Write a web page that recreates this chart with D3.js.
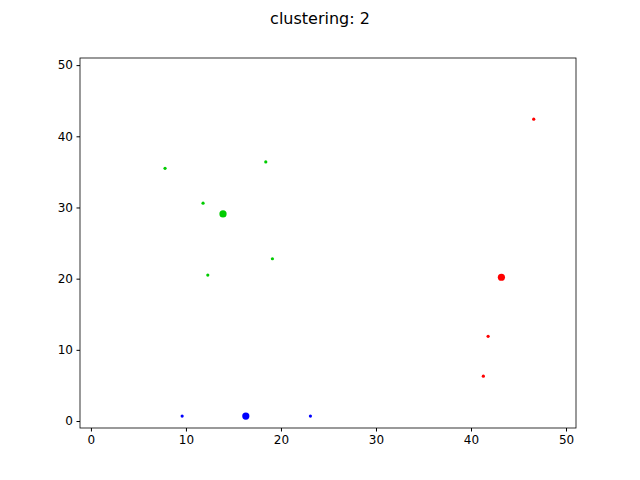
<!DOCTYPE html>
<html>
<head>
<meta charset="utf-8">
<script src="https://cdn.jsdelivr.net/npm/d3@7"></script>
<style>
  body { margin: 0; background: #fff; }
  text { font-family: "DejaVu Sans", sans-serif; }
</style>
</head>
<body>
<div id="chart"></div>
<script>
// points
const xs = [46.6, 43.2, 41.8, 41.3, 7.8, 18.4, 11.8, 13.9, 19.1, 12.3, 9.6, 16.3, 23.1]
const ys = [42.4, 20.2, 11.9, 6.3, 35.5, 36.4, 30.6, 29.1, 22.8, 20.5, 0.7, 0.7, 0.7]
const cluster = [0, 0, 0, 0, 1, 1, 1, 1, 1, 1, 2, 2, 2]
const isCenter = [false, true, false, false, false, false, false, true, false, false, false, true, false]
const ticks = [0, 10, 20, 30, 40, 50]
const colors = ["#ff0000", "#00cc00", "#0000ff"]

const width = 640, height = 480
const margin = {left: 80, right: 64, top: 58, bottom: 52}

const svg = d3.select("#chart").append("svg")
    .attr("width", width)
    .attr("height", height)

const x = d3.scaleLinear().domain([-1.15, 51.05]).range([margin.left, width - margin.right])
const y = d3.scaleLinear().domain([-0.98, 51]).range([height - margin.bottom, margin.top])

// title
svg.append("text")
    .attr("x", width / 2)
    .attr("y", 24)
    .attr("text-anchor", "middle")
    .attr("font-size", 16)
    .text("clustering: 2")

// axes
const xAxis = svg.append("g")
    .attr("transform", `translate(0,${height - margin.bottom})`)
    .call(d3.axisBottom(x).tickValues(ticks).tickSize(3.5).tickPadding(3.5))
const yAxis = svg.append("g")
    .attr("transform", `translate(${margin.left},0)`)
    .call(d3.axisLeft(y).tickValues(ticks).tickSize(3.5).tickPadding(3.5))
;[xAxis, yAxis].forEach(a => {
    a.selectAll("text").attr("font-size", 12).attr("fill", "#000")
    a.select(".domain").remove()
})

// frame
svg.append("rect")
    .attr("x", margin.left)
    .attr("y", margin.top)
    .attr("width", width - margin.left - margin.right)
    .attr("height", height - margin.top - margin.bottom)
    .attr("fill", "none")
    .attr("stroke", "#000")
    .attr("stroke-width", 0.8)

// points
svg.append("g").selectAll("circle")
    .data(xs.map((d, i) => i))
    .join("circle")
    .attr("cx", i => x(xs[i]))
    .attr("cy", i => y(ys[i]))
    .attr("r", i => isCenter[i] ? 3.6 : 1.6)
    .attr("fill", i => colors[cluster[i]])
</script>
</body>
</html>
